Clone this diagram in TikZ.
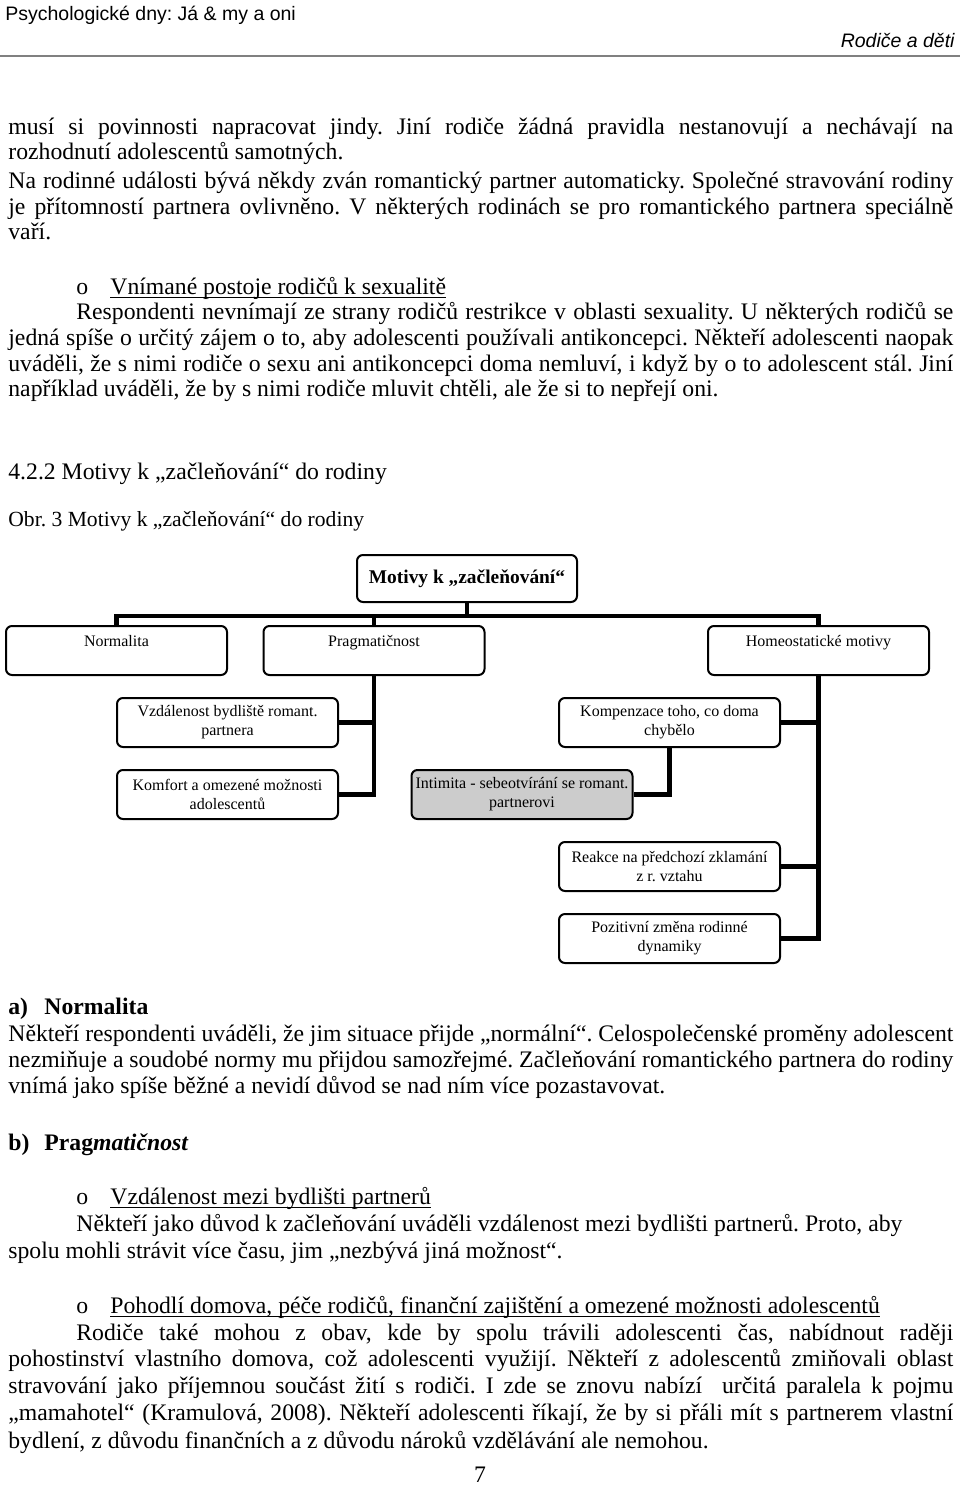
\documentclass[tikz,border=0pt]{standalone}
\usepackage{fontspec}
\setmainfont{Liberation Serif}
\newfontfamily\headfont{Liberation Sans}
\newcommand\bodyfont{\fontsize{11.85pt}{13pt}\selectfont}
\newcommand\capfont{\fontsize{10.8pt}{12pt}\selectfont}
\newcommand\boxfont{\fontsize{8pt}{9.5pt}\selectfont}
\newcommand\jline[2][472.5pt]{\makebox[#1][s]{#2}}
\frenchspacing
\begin{document}
\begin{tikzpicture}[x=0.5pt,y=-0.5pt,
    txt/.style={anchor=base west,inner sep=0pt,font=\bodyfont},
    motiv/.style={draw,line width=1pt,rounded corners=3pt,fill=white,
      minimum width=110.5pt,minimum height=24.5pt,inner sep=0pt,
      align=center,font=\boxfont},
    conn/.style={line width=2.2pt},
    uline/.style={line width=0.55pt}]
  \useasboundingbox (0,0) rectangle (960,1485);
  % header
  \node[anchor=base west,inner sep=0pt,font=\headfont\fontsize{9.75pt}{11pt}\selectfont]
    (hleft) at (5,20) {Psychologické dny: Já \& my a oni};
  \node[anchor=base east,inner sep=0pt,font=\headfont\itshape\fontsize{9.75pt}{11pt}\selectfont]
    (hright) at (955,47) {Rodiče a děti};
  \coordinate (rulea) at (0,56);
  \coordinate (ruleb) at (960,56);
  \draw[gray,line width=0.8pt] (rulea) -- (ruleb);

  % text above the figure
  \node[txt] (p1) at (8,134) {\jline{musí si povinnosti napracovat jindy. Jiní rodiče žádná pravidla nestanovují a nechávají na}};
  \node[txt] (p2) at (8,159) {rozhodnutí adolescentů samotných.};
  \node[txt] (p3) at (8,188) {\jline{Na rodinné události bývá někdy zván romantický partner automaticky. Společné stravování rodiny}};
  \node[txt] (p4) at (8,214) {\jline{je přítomností partnera ovlivněno. V některých rodinách se pro romantického partnera speciálně}};
  \node[txt] (p5) at (8,239) {vaří.};
  \node[txt] (b1) at (76,294) {o};
  \node[txt] (b1t) at (110,294) {Vnímané postoje rodičů k sexualitě};
  \node[txt] (q1) at (76,319) {\jline[438.5pt]{Respondenti nevnímají ze strany rodičů restrikce v oblasti sexuality. U některých rodičů se}};
  \node[txt] (q2) at (8,345) {\jline{jedná spíše o určitý zájem o to, aby adolescenti používali antikoncepci. Někteří adolescenti naopak}};
  \node[txt] (q3) at (8,371) {\jline{uváděli, že s nimi rodiče o sexu ani antikoncepci doma nemluví, i když by o to adolescent stál. Jiní}};
  \node[txt] (q4) at (8,396) {například uváděli, že by s nimi rodiče mluvit chtěli, ale že si to nepřejí oni.};
  \node[txt] (sec) at (8,479) {4.2.2 Motivy k „začleňování“ do rodiny};
  \node[txt,font=\capfont] (obr) at (8,526) {Obr. 3 Motivy k „začleňování“ do rodiny};

  % figure
  \node[motiv,minimum width=110pt,minimum height=23.5pt,font=\fontsize{9.7pt}{11pt}\selectfont\bfseries] (top) at (467,578.5) {Motivy k „začleňování“};
  \node[motiv] (norm) at (116.5,650.5) {Normalita\\ \mbox{}};
  \node[motiv] (prag) at (374,650.5) {Pragmatičnost\\ \mbox{}};
  \node[motiv] (homeo) at (818.5,650.5) {Homeostatické motivy\\ \mbox{}};
  \node[motiv] (vzdal) at (227.5,722.5) {Vzdálenost bydliště romant.\\ partnera};
  \node[motiv] (komfort) at (227.5,794.5) {Komfort a omezené možnosti\\ adolescentů};
  \node[motiv] (kompen) at (669.5,722.5) {Kompenzace toho, co doma\\ chybělo};
  \node[motiv,fill=gray!40] (intim) at (522,794.5) {Intimita - sebeotvírání se romant.\\ partnerovi};
  \node[motiv] (reakce) at (669.5,866.5) {Reakce na předchozí zklamání\\ z r. vztahu};
  \node[motiv] (pozit) at (669.5,938.5) {Pozitivní změna rodinné\\ dynamiky};
  \begin{scope}[conn]
    \draw (top.south) -- +(0,13) -| (norm.north);
    \draw (top.south) -- +(0,13) -| (prag.north);
    \draw (top.south) -- +(0,13) -| (homeo.north);
    \draw (prag.south) |- (vzdal.east);
    \draw (prag.south) |- (komfort.east);
    \draw (homeo.south) |- (kompen.east);
    \draw (homeo.south) |- (reakce.east);
    \draw (homeo.south) |- (pozit.east);
    \draw (kompen.south) |- (intim.east);
  \end{scope}

  % text below the figure
  \node[txt,font=\bodyfont\bfseries] (ha) at (8,1014) {a)};
  \node[txt,font=\bodyfont\bfseries] (hat) at (44,1014) {Normalita};
  \node[txt] (r1) at (8,1041) {\jline{Někteří respondenti uváděli, že jim situace přijde „normální“. Celospolečenské proměny adolescent}};
  \node[txt] (r2) at (8,1067) {\jline{nezmiňuje a soudobé normy mu přijdou samozřejmé. Začleňování romantického partnera do rodiny}};
  \node[txt] (r3) at (8,1093) {vnímá jako spíše běžné a nevidí důvod se nad ním více pozastavovat.};
  \node[txt,font=\bodyfont\bfseries] (hb) at (8,1150) {b)};
  \node[txt,font=\bodyfont\bfseries] (hbt) at (44,1150) {Prag\textit{matičnost}};
  \node[txt] (b2) at (76,1204) {o};
  \node[txt] (b2t) at (110,1204) {Vzdálenost mezi bydlišti partnerů};
  \node[txt] (s1) at (76,1231) {Někteří jako důvod k začleňování uváděli vzdálenost mezi bydlišti partnerů. Proto, aby};
  \node[txt] (s2) at (8,1258) {spolu mohli strávit více času, jim „nezbývá jiná možnost“.};
  \node[txt] (b3) at (76,1313) {o};
  \node[txt] (b3t) at (110,1313) {Pohodlí domova, péče rodičů, finanční zajištění a omezené možnosti adolescentů};
  \node[txt] (t1) at (76,1340) {\jline[438.5pt]{Rodiče také mohou z obav, kde by spolu trávili adolescenti čas, nabídnout raději}};
  \node[txt] (t2) at (8,1366) {\jline{pohostinství vlastního domova, což adolescenti využijí. Někteří z adolescentů zmiňovali oblast}};
  \node[txt] (t3) at (8,1393) {\jline{stravování jako příjemnou součást žití s rodiči. I zde se znovu nabízí\ \ určitá paralela k pojmu}};
  \node[txt] (t4) at (8,1420) {\jline{„mamahotel“ (Kramulová, 2008). Někteří adolescenti říkají, že by si přáli mít s partnerem vlastní}};
  \node[txt] (t5) at (8,1448) {bydlení, z důvodu finančních a z důvodu nároků vzdělávání ale nemohou.};
  \node[anchor=base,inner sep=0pt,font=\bodyfont] (pg) at (480,1482) {7};
  % underlines
  \draw[uline] ([yshift=-1.6pt]b1t.base west) -- ([yshift=-1.6pt]b1t.base east);
  \draw[uline] ([yshift=-1.6pt]b2t.base west) -- ([yshift=-1.6pt]b2t.base east);
  \draw[uline] ([yshift=-1.6pt]b3t.base west) -- ([yshift=-1.6pt]b3t.base east);
\end{tikzpicture}
\end{document}
